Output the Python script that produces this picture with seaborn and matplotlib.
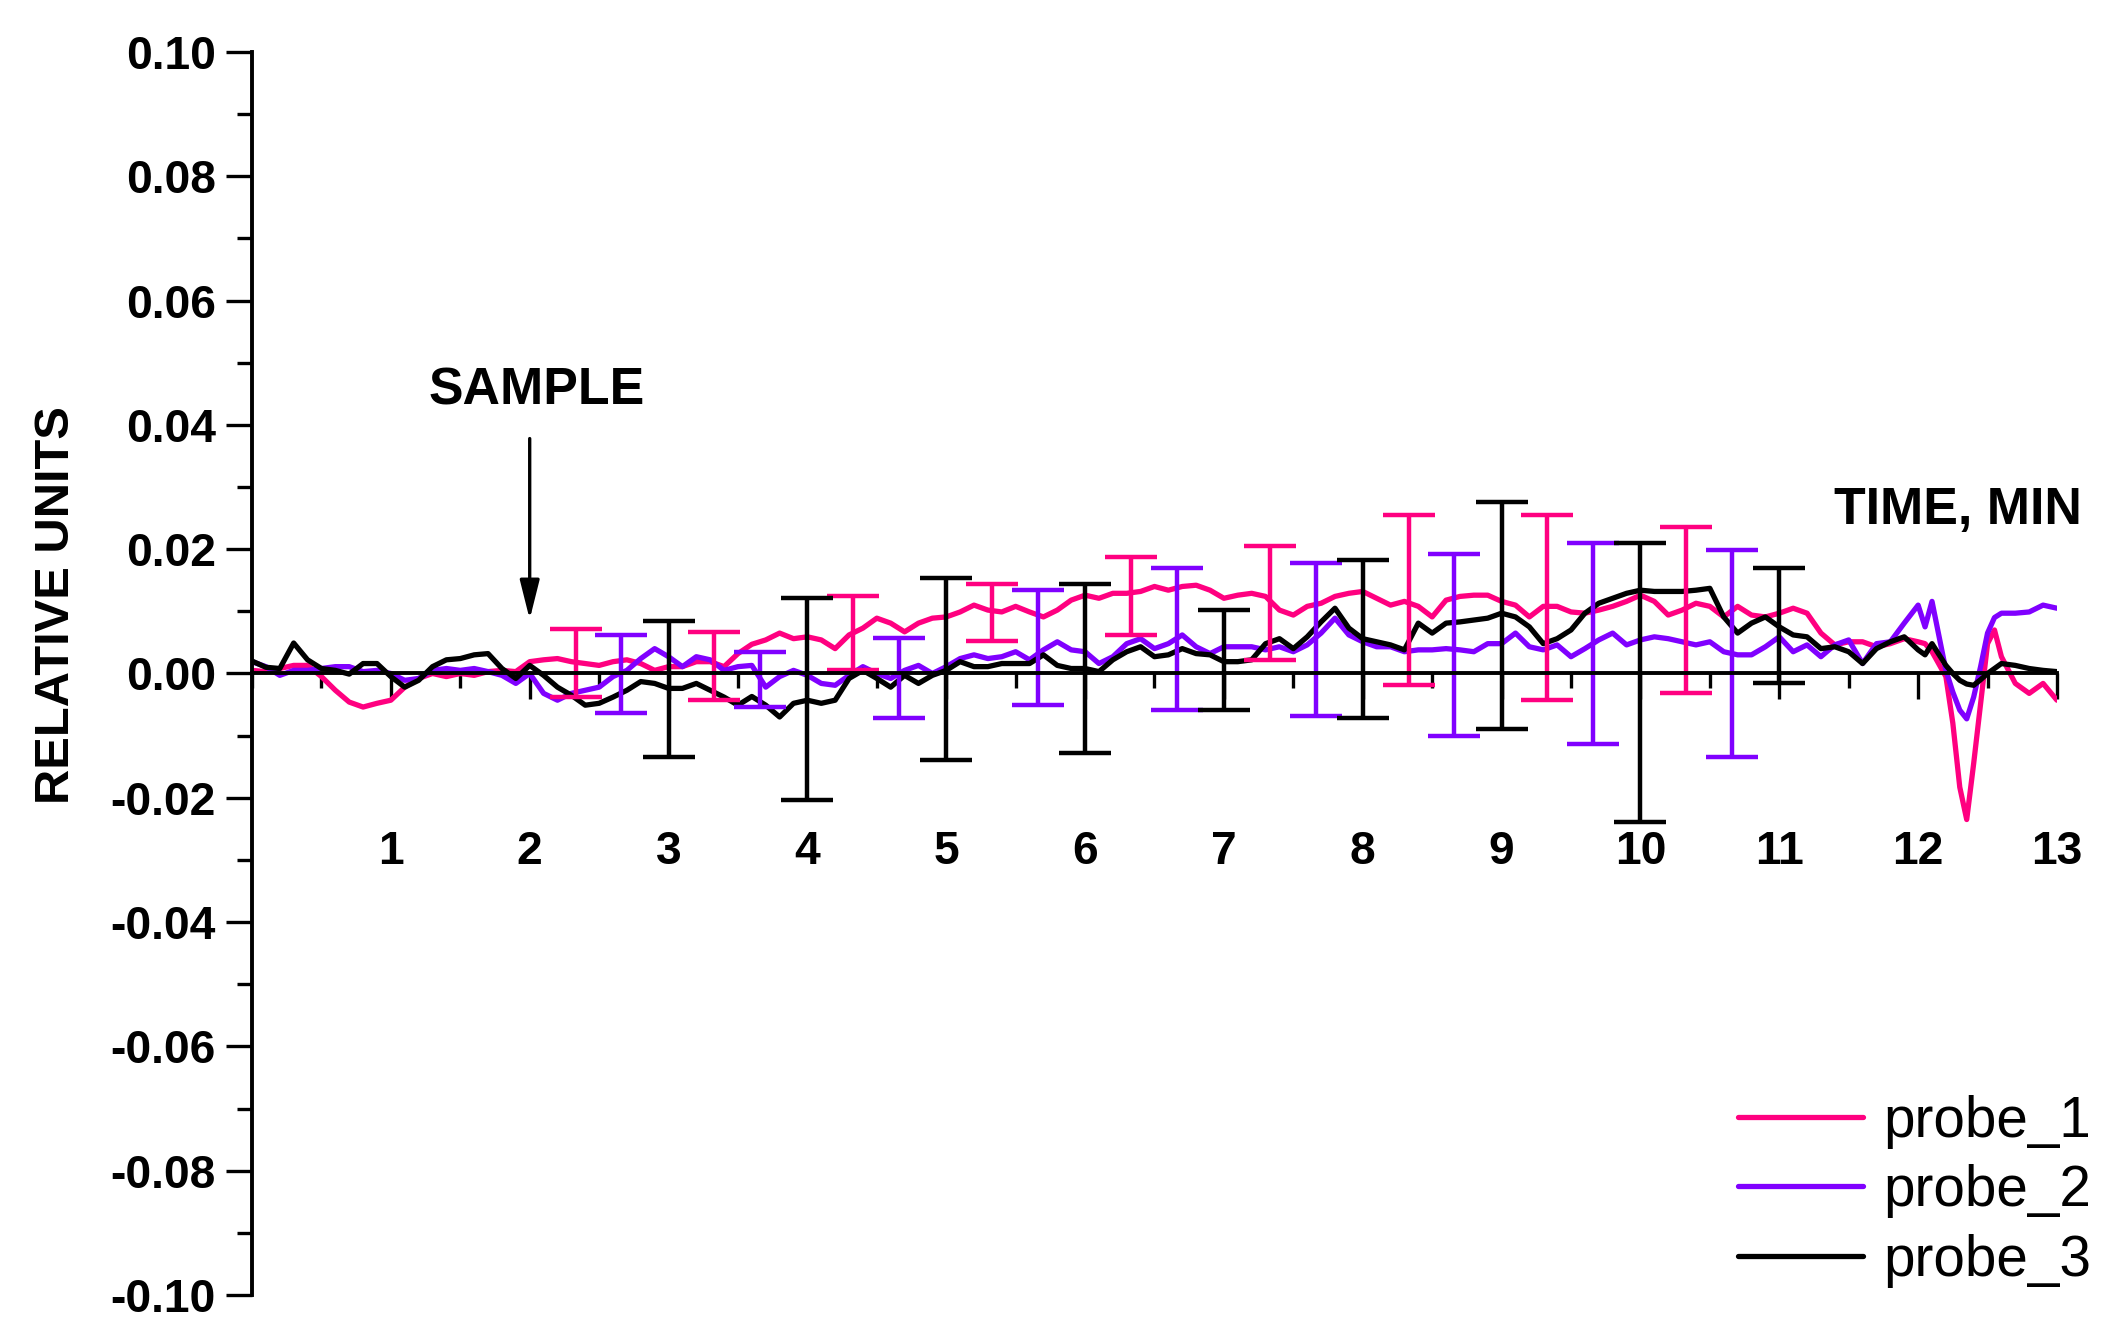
import numpy as np
import pandas as pd
import seaborn as sns
import matplotlib
matplotlib.use("Agg")
from matplotlib import pyplot as plt
from matplotlib.lines import Line2D
from matplotlib.ticker import MultipleLocator, FuncFormatter

# time grid, minutes (denser around the dip at ~12.3 min)
time_min = [0.0, 0.1, 0.2, 0.3, 0.4, 0.5, 0.6, 0.7, 0.8, 0.9,
            1.0, 1.1, 1.2, 1.3, 1.4, 1.5, 1.6, 1.7, 1.8, 1.9,
            2.0, 2.1, 2.2, 2.3, 2.4, 2.5, 2.6, 2.7, 2.8, 2.9,
            3.0, 3.1, 3.2, 3.3, 3.4, 3.5, 3.6, 3.7, 3.8, 3.9,
            4.0, 4.1, 4.2, 4.3, 4.4, 4.5, 4.6, 4.7, 4.8, 4.9,
            5.0, 5.1, 5.2, 5.3, 5.4, 5.5, 5.6, 5.7, 5.8, 5.9,
            6.0, 6.1, 6.2, 6.3, 6.4, 6.5, 6.6, 6.7, 6.8, 6.9,
            7.0, 7.1, 7.2, 7.3, 7.4, 7.5, 7.6, 7.7, 7.8, 7.9,
            8.0, 8.1, 8.2, 8.3, 8.4, 8.5, 8.6, 8.7, 8.8, 8.9,
            9.0, 9.1, 9.2, 9.3, 9.4, 9.5, 9.6, 9.7, 9.8, 9.9,
            10.0, 10.1, 10.2, 10.3, 10.4, 10.5, 10.6, 10.7, 10.8, 10.9,
            11.0, 11.1, 11.2, 11.3, 11.4, 11.5, 11.6, 11.7, 11.8, 11.9,
            12.0, 12.05, 12.1, 12.2, 12.25, 12.3, 12.35, 12.4, 12.45, 12.5,
            12.55, 12.6, 12.7, 12.8, 12.9, 13.0]

probe_1 = [0.0005, 0.0003, 0.0008, 0.0013, 0.0013, -0.0005, -0.0027, -0.0046, -0.0054, -0.0048,
           -0.0043, -0.0022, -0.0008, 0.0000, -0.0005, 0.0000, -0.0003, 0.0003, 0.0005, 0.0003,
           0.0019, 0.0022, 0.0024, 0.0019, 0.0016, 0.0013, 0.0019, 0.0022, 0.0016, 0.0005,
           0.0011, 0.0011, 0.0019, 0.0019, 0.0011, 0.0032, 0.0047, 0.0054, 0.0065, 0.0056,
           0.0059, 0.0054, 0.0040, 0.0062, 0.0073, 0.0089, 0.0081, 0.0067, 0.0081, 0.0089,
           0.0091, 0.0099, 0.0110, 0.0102, 0.0099, 0.0108, 0.0099, 0.0091, 0.0102, 0.0118,
           0.0126, 0.0121, 0.0129, 0.0129, 0.0132, 0.0140, 0.0134, 0.0140, 0.0142, 0.0134,
           0.0121, 0.0126, 0.0129, 0.0124, 0.0102, 0.0094, 0.0108, 0.0113, 0.0124, 0.0129,
           0.0132, 0.0121, 0.0110, 0.0116, 0.0108, 0.0091, 0.0118, 0.0124, 0.0126, 0.0126,
           0.0116, 0.0110, 0.0091, 0.0108, 0.0108, 0.0099, 0.0097, 0.0102, 0.0108, 0.0116,
           0.0126, 0.0116, 0.0094, 0.0102, 0.0113, 0.0108, 0.0091, 0.0108, 0.0094, 0.0091,
           0.0097, 0.0105, 0.0097, 0.0065, 0.0046, 0.0051, 0.0051, 0.0043, 0.0048, 0.0056,
           0.0051, 0.0048, 0.0035, -0.0005, -0.0080, -0.0183, -0.0235, -0.0145, -0.0048, 0.0048,
           0.0070, 0.0027, -0.0016, -0.0032, -0.0016, -0.0043]

probe_2 = [0.0019, 0.0011, -0.0003, 0.0005, 0.0005, 0.0008, 0.0011, 0.0011, 0.0003, 0.0005,
           0.0000, -0.0011, -0.0008, 0.0005, 0.0008, 0.0005, 0.0008, 0.0003, -0.0003, -0.0016,
           0.0000, -0.0032, -0.0043, -0.0032, -0.0027, -0.0022, -0.0005, 0.0005, 0.0024, 0.0040,
           0.0027, 0.0011, 0.0027, 0.0022, 0.0005, 0.0011, 0.0013, -0.0022, -0.0005, 0.0005,
           -0.0003, -0.0016, -0.0019, -0.0003, 0.0011, 0.0000, -0.0008, 0.0005, 0.0013, 0.0000,
           0.0011, 0.0024, 0.0030, 0.0024, 0.0027, 0.0035, 0.0022, 0.0038, 0.0051, 0.0038,
           0.0035, 0.0016, 0.0027, 0.0048, 0.0056, 0.0040, 0.0048, 0.0062, 0.0043, 0.0032,
           0.0043, 0.0043, 0.0043, 0.0038, 0.0043, 0.0035, 0.0046, 0.0065, 0.0089, 0.0062,
           0.0051, 0.0043, 0.0043, 0.0035, 0.0038, 0.0038, 0.0040, 0.0038, 0.0035, 0.0048,
           0.0048, 0.0065, 0.0043, 0.0038, 0.0046, 0.0027, 0.0040, 0.0054, 0.0065, 0.0046,
           0.0054, 0.0059, 0.0056, 0.0051, 0.0046, 0.0051, 0.0035, 0.0030, 0.0030, 0.0043,
           0.0059, 0.0035, 0.0046, 0.0027, 0.0046, 0.0054, 0.0016, 0.0048, 0.0051, 0.0081,
           0.0110, 0.0075, 0.0116, 0.0005, -0.0030, -0.0059, -0.0073, -0.0038, 0.0011, 0.0065,
           0.0090, 0.0097, 0.0097, 0.0099, 0.0110, 0.0105]

probe_3 = [0.0020, 0.0010, 0.0008, 0.0049, 0.0022, 0.0008, 0.0005, -0.0001, 0.0016, 0.0016,
           -0.0005, -0.0022, -0.0011, 0.0011, 0.0022, 0.0024, 0.0030, 0.0032, 0.0008, -0.0008,
           0.0013, -0.0003, -0.0022, -0.0035, -0.0051, -0.0048, -0.0038, -0.0027, -0.0013, -0.0016,
           -0.0024, -0.0024, -0.0016, -0.0027, -0.0038, -0.0051, -0.0037, -0.0051, -0.0070, -0.0048,
           -0.0043, -0.0048, -0.0043, -0.0008, 0.0005, -0.0008, -0.0022, -0.0003, -0.0016, -0.0003,
           0.0005, 0.0019, 0.0011, 0.0011, 0.0016, 0.0016, 0.0016, 0.0030, 0.0013, 0.0008,
           0.0008, 0.0003, 0.0022, 0.0035, 0.0043, 0.0027, 0.0030, 0.0040, 0.0032, 0.0030,
           0.0019, 0.0019, 0.0022, 0.0048, 0.0056, 0.0040, 0.0059, 0.0083, 0.0105, 0.0073,
           0.0056, 0.0051, 0.0046, 0.0038, 0.0081, 0.0065, 0.0081, 0.0083, 0.0086, 0.0089,
           0.0097, 0.0091, 0.0075, 0.0048, 0.0056, 0.0070, 0.0097, 0.0113, 0.0121, 0.0129,
           0.0134, 0.0132, 0.0132, 0.0132, 0.0134, 0.0137, 0.0091, 0.0065, 0.0081, 0.0091,
           0.0075, 0.0062, 0.0059, 0.0040, 0.0043, 0.0035, 0.0016, 0.0040, 0.0051, 0.0059,
           0.0038, 0.0030, 0.0048, 0.0013, 0.0000, -0.0011, -0.0017, -0.0019, -0.0010, 0.0000,
           0.0008, 0.0016, 0.0013, 0.0008, 0.0005, 0.0003]

# error bars: position, bottom end, top end
err_x_1 = [2.33, 3.33, 4.33, 5.33, 6.33, 7.33, 8.33, 9.33, 10.33]
err_lo_1 = [-0.0038, -0.0043, 0.0006, 0.0053, 0.0062, 0.0021, -0.0019, -0.0042, -0.0032]
err_hi_1 = [0.0071, 0.0066, 0.0125, 0.0144, 0.0187, 0.0205, 0.0255, 0.0255, 0.0235]

err_x_2 = [2.66, 3.66, 4.66, 5.66, 6.66, 7.66, 8.66, 9.66, 10.66]
err_lo_2 = [-0.0063, -0.0054, -0.0072, -0.0051, -0.0059, -0.0069, -0.0100, -0.0114, -0.0134]
err_hi_2 = [0.0062, 0.0035, 0.0057, 0.0135, 0.0169, 0.0178, 0.0192, 0.0210, 0.0199]

err_x_3 = [3, 4, 5, 6, 7, 8, 9, 10, 11]
err_lo_3 = [-0.0135, -0.0203, -0.0140, -0.0128, -0.0059, -0.0072, -0.0090, -0.0239, -0.0015]
err_hi_3 = [0.0084, 0.0122, 0.0153, 0.0144, 0.0102, 0.0183, 0.0276, 0.0210, 0.0169]

names = ["probe_1", "probe_2", "probe_3"]
colors = {"probe_1": "#ff0080", "probe_2": "#8000ff", "probe_3": "#000000"}

sns.set_style("ticks")
plt.rcParams["font.family"] = ["Liberation Sans", "DejaVu Sans"]
plt.rcParams["text.color"] = "black"
plt.rcParams["xtick.color"] = "black"
plt.rcParams["ytick.color"] = "black"
plt.rcParams["axes.edgecolor"] = "black"

data = []
for name, vals in zip(names, [probe_1, probe_2, probe_3]):
    for t, v in zip(time_min, vals):
        data.append({"time": t, "probe": name, "value": v})
df = pd.DataFrame(data)

fig = plt.figure(figsize=(10.58, 6.70), dpi=200)
ax = fig.add_axes([0.1191, 0.0336, 0.8530, 0.9276])

sns.lineplot(data=df, x="time", y="value", hue="probe", palette=colors,
             estimator=None, sort=False, linewidth=1.9, legend=False, ax=ax)

for name, ex, lo, hi in [("probe_1", err_x_1, err_lo_1, err_hi_1),
                         ("probe_2", err_x_2, err_lo_2, err_hi_2),
                         ("probe_3", err_x_3, err_lo_3, err_hi_3)]:
    lo = np.array(lo)
    hi = np.array(hi)
    ax.errorbar(ex, (lo + hi) / 2, yerr=(hi - lo) / 2, fmt="none",
                ecolor=colors[name], elinewidth=1.6, capsize=9.5, capthick=1.6)

ax.set_xlim(0, 13)
ax.set_ylim(-0.10, 0.10)
ax.spines["top"].set_visible(False)
ax.spines["right"].set_visible(False)
ax.spines["bottom"].set_position(("data", 0))
ax.spines["left"].set_linewidth(1.4)
ax.spines["bottom"].set_linewidth(1.4)

ax.yaxis.set_major_locator(MultipleLocator(0.02))
ax.yaxis.set_minor_locator(MultipleLocator(0.01))
ax.yaxis.set_major_formatter(FuncFormatter(lambda v, pos: "%.2f" % (round(v, 4) + 0.0)))
ax.set_xticks(range(1, 14))
ax.xaxis.set_minor_locator(MultipleLocator(0.5))
ax.tick_params(axis="both", which="major", length=9.4, width=1.2, direction="out")
ax.tick_params(axis="both", which="minor", length=5.4, width=1.2, direction="out")
ax.tick_params(axis="y", which="major", pad=3.6, labelsize=16.6)
ax.tick_params(axis="x", which="major", pad=47, labelsize=16.6)
for lab in ax.get_xticklabels() + ax.get_yticklabels():
    lab.set_fontweight("bold")
ax.set_xlabel("")
ax.set_ylabel("")

ax.annotate("", xy=(2.0, 0.0087), xytext=(2.0, 0.0378),
            arrowprops=dict(arrowstyle="-|>,head_length=1.2,head_width=0.3",
                            color="black", lw=1.2, shrinkA=0, shrinkB=0))
ax.text(2.05, 0.0433, "SAMPLE", ha="center", va="baseline", fontsize=18.7, fontweight="bold")
ax.text(13.18, 0.0240, "TIME, MIN", ha="right", va="baseline", fontsize=18.7, fontweight="bold")
fig.text(0.0269, 0.5485, "RELATIVE UNITS", rotation=90, ha="center", va="center",
         fontsize=17.6, fontweight="bold")

handles = [Line2D([], [], color=colors[n], lw=1.9) for n in names]
fig.legend(handles, names, loc="center left", bbox_to_anchor=(0.8214, 0.111),
           frameon=False, fontsize=20.4, handlelength=2.2, handletextpad=0.36,
           labelspacing=0.27, borderpad=0, borderaxespad=0)

fig.savefig("out.png", dpi=200, facecolor="white")
